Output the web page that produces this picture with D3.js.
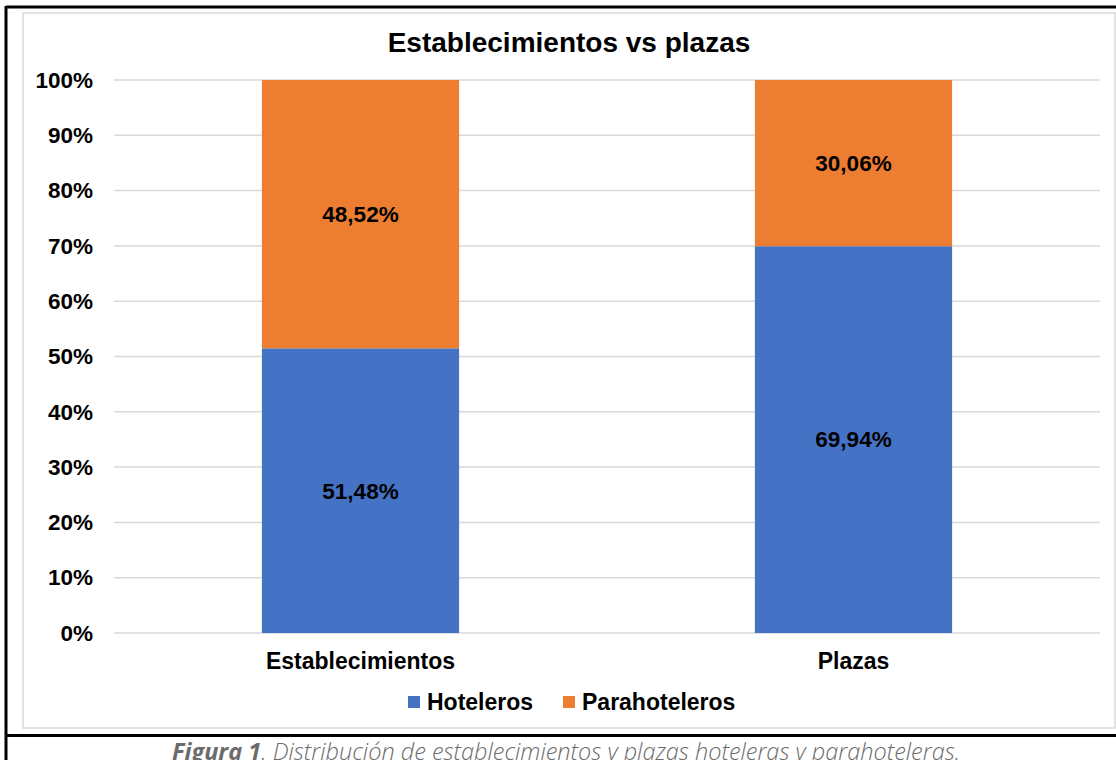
<!DOCTYPE html>
<html>
<head>
<meta charset="utf-8">
<script src="https://cdn.jsdelivr.net/npm/d3@7"></script>
<style>
  body { margin: 0; background: #fff; }
  text { font-family: "Liberation Sans", Arial, sans-serif; }
</style>
</head>
<body>
<div id="wrapper"></div>
<script>
const categories = ["Establecimientos", "Plazas"];
const seriesNames = ["Hoteleros", "Parahoteleros"];
const hoteleros = [51.48, 69.94];
const parahoteleros = [48.52, 30.06];
const tickValues = [0, 10, 20, 30, 40, 50, 60, 70, 80, 90, 100];
const colors = ["#4472C4", "#ED7D31"];

function build() {
    var dimension = {
        width: 1116,
        height: 760,
        margin: { top: 80, right: 16, bottom: 127, left: 114 }
    }
    dimension.boundedWidth = dimension.width - dimension.margin.left - dimension.margin.right;
    dimension.boundedHeight = dimension.height - dimension.margin.top - dimension.margin.bottom;

    const wrapper = d3.select("#wrapper")
        .append("svg")
        .attr("width", dimension.width)
        .attr("height", dimension.height);

    // frame lines of the document
    wrapper.append("rect")
        .attr("x", 23).attr("y", 13)
        .attr("width", 1092).attr("height", 715)
        .attr("fill", "none")
        .attr("stroke", "#d9d9d9")
        .attr("stroke-width", 1.5);
    wrapper.append("line")
        .attr("x1", 6).attr("x2", 1116).attr("y1", 7).attr("y2", 7)
        .attr("stroke", "#000").attr("stroke-width", 3);
    wrapper.append("line")
        .attr("x1", 6).attr("x2", 6).attr("y1", 6).attr("y2", 760)
        .attr("stroke", "#000").attr("stroke-width", 3);
    wrapper.append("line")
        .attr("x1", 5).attr("x2", 1116).attr("y1", 735.5).attr("y2", 735.5)
        .attr("stroke", "#000").attr("stroke-width", 3);

    const bounds = wrapper.append("g")
        .attr("transform", `translate(${dimension.margin.left},${dimension.margin.top})`);

    const x = d3.scaleBand()
        .domain(categories)
        .range([0, dimension.boundedWidth])
        .paddingInner(0.6)
        .paddingOuter(0.3);

    const y = d3.scaleLinear()
        .domain([0, 100])
        .range([dimension.boundedHeight, 0]);

    // gridlines
    bounds.selectAll(".grid")
        .data(tickValues)
        .enter()
        .append("line")
        .attr("class", "grid")
        .attr("x1", 0)
        .attr("x2", dimension.boundedWidth)
        .attr("y1", d => y(d))
        .attr("y2", d => y(d))
        .attr("stroke", "#d9d9d9")
        .attr("stroke-width", 1.5);

    // y axis
    const yAxis = d3.axisLeft(y)
        .tickValues(tickValues)
        .tickFormat(d => d + "%")
        .tickSize(0)
        .tickPadding(21);
    const yAxisG = bounds.append("g").call(yAxis);
    yAxisG.select(".domain").remove();
    yAxisG.selectAll("text")
        .style("font-size", "22.5px")
        .style("font-weight", "bold")
        .attr("fill", "#000");

    // x axis
    const xAxis = d3.axisBottom(x).tickSize(0).tickPadding(20);
    const xAxisG = bounds.append("g")
        .attr("transform", `translate(0,${dimension.boundedHeight})`)
        .call(xAxis);
    xAxisG.select(".domain").remove();
    xAxisG.selectAll("text")
        .style("font-size", "23px")
        .style("font-weight", "bold")
        .attr("fill", "#000");

    // stacked data
    const rows = categories.map((c, i) => ({ category: c, Hoteleros: hoteleros[i], Parahoteleros: parahoteleros[i] }));
    const stacked = d3.stack().keys(seriesNames)(rows);

    const layers = bounds.selectAll(".layer")
        .data(stacked)
        .enter()
        .append("g")
        .attr("class", "layer")
        .attr("fill", (d, i) => colors[i]);

    layers.selectAll("rect")
        .data(d => d)
        .enter()
        .append("rect")
        .attr("x", d => x(d.data.category))
        .attr("width", x.bandwidth())
        .attr("y", d => y(d[1]))
        .attr("height", d => y(d[0]) - y(d[1]));

    layers.selectAll(".label")
        .data(d => d.map(p => ({ p: p, key: d.key })))
        .enter()
        .append("text")
        .attr("class", "label")
        .attr("x", d => x(d.p.data.category) + x.bandwidth() / 2)
        .attr("y", d => (y(d.p[0]) + y(d.p[1])) / 2)
        .attr("dy", "0.35em")
        .attr("text-anchor", "middle")
        .attr("fill", "#000")
        .style("font-size", "22.5px")
        .style("font-weight", "bold")
        .text(d => d.p.data[d.key].toFixed(2).replace(".", ",") + "%");

    // title
    wrapper.append("text")
        .attr("x", 569)
        .attr("y", 42)
        .attr("dy", "0.35em")
        .attr("text-anchor", "middle")
        .style("font-size", "28px")
        .style("font-weight", "bold")
        .text("Establecimientos vs plazas");

    // legend
    const legendX = [408, 563];
    const legend = wrapper.append("g")
        .selectAll("g")
        .data(seriesNames)
        .enter()
        .append("g")
        .attr("transform", (d, i) => `translate(${legendX[i]},702)`);
    legend.append("rect")
        .attr("x", 0).attr("y", -6)
        .attr("width", 12).attr("height", 12)
        .attr("fill", (d, i) => colors[i]);
    legend.append("text")
        .attr("x", 19)
        .attr("dy", "0.35em")
        .style("font-size", "23px")
        .style("font-weight", "bold")
        .text(d => d);

    // caption (cut by the bottom edge, as in the source)
    const caption = wrapper.append("text")
        .attr("x", 566)
        .attr("y", 760)
        .attr("text-anchor", "middle")
        .attr("fill", "#6b6b6b")
        .style("font-family", "'Open Sans', sans-serif")
        .style("font-style", "italic")
        .style("font-weight", "300")
        .style("font-size", "23.5px");
    caption.append("tspan").style("font-weight", "700").text("Figura 1");
    caption.append("tspan").text(". Distribución de establecimientos y plazas hoteleras y parahoteleras.");
}

build();
</script>
</body>
</html>
